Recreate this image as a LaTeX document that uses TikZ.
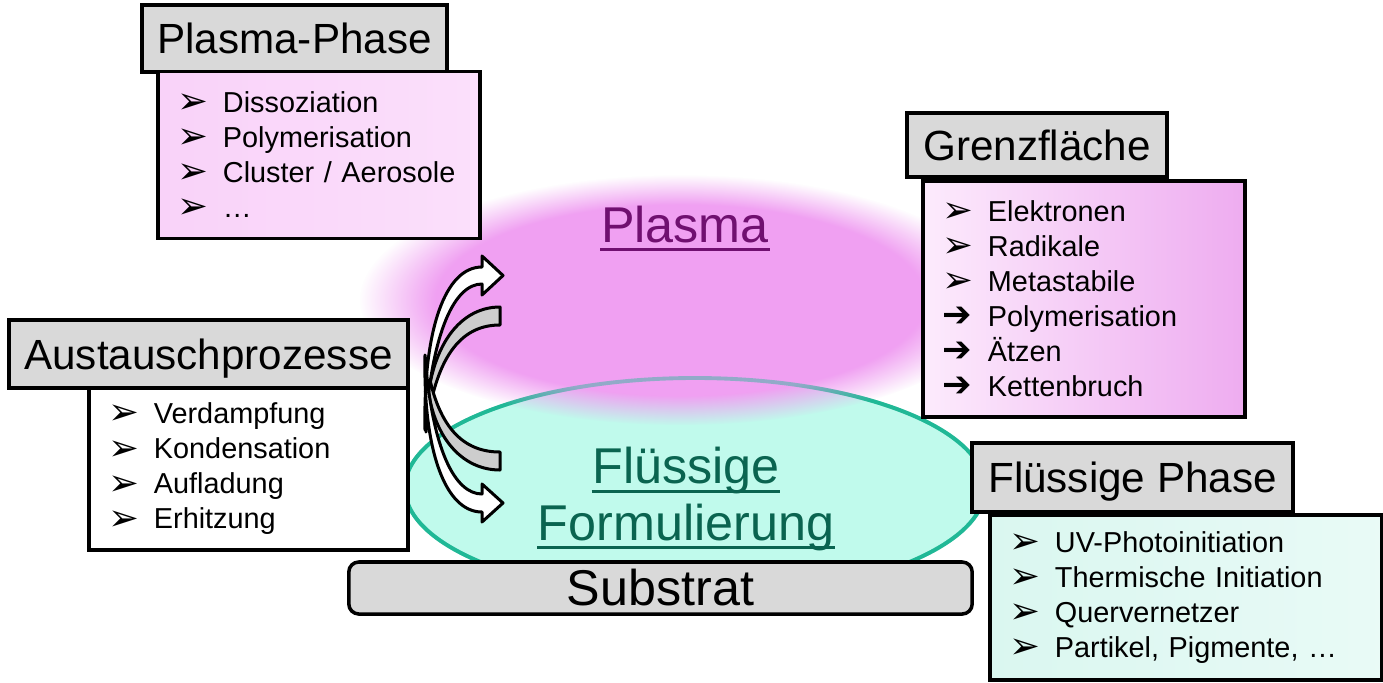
\documentclass[tikz,border=0pt]{standalone}
\usepackage{fontspec}
\setmainfont{Liberation Sans}
\newfontfamily\symfont{DejaVu Sans}
\usetikzlibrary{fadings}

\definecolor{titlegray}{RGB}{217,217,217}
\definecolor{plasmapink}{RGB}{240,160,242}
\definecolor{plasmatext}{RGB}{112,16,112}
\definecolor{fluidcyan}{RGB}{192,250,236}
\definecolor{fluidteal}{RGB}{32,184,150}
\definecolor{fluidtext}{RGB}{10,100,80}
\definecolor{boxpink}{RGB}{249,210,249}
\definecolor{boxpinkdark}{RGB}{238,172,240}
\definecolor{boxcyan}{RGB}{218,247,240}
\definecolor{boxcyanmid}{RGB}{202,232,224}
\definecolor{arrowgray}{RGB}{205,205,205}

% weicher Rand fuer die Plasmawolke
\pgfdeclareradialshading{plasmafadeshade}{\pgfpointorigin}{%
  color(0bp)=(pgftransparent!0); color(19bp)=(pgftransparent!0);
  color(25bp)=(pgftransparent!100); color(50bp)=(pgftransparent!100)}
\pgfdeclarefading{plasmafade}{\pgfuseshading{plasmafadeshade}}

\newcommand{\pfeil}{\makebox[0.45cm][l]{\raisebox{-0.3pt}{\symfont\fontsize{10.5}{8}\selectfont ➢}}}
\newcommand{\dickpfeil}{\makebox[0.45cm][l]{\symfont\fontsize{10}{8}\selectfont ➔}}

\begin{document}
\begin{tikzpicture}[
    x=0.01cm, y=-0.01cm,
    kopf/.style={draw, line width=1pt, fill=titlegray, inner sep=0pt,
        font=\fontsize{12}{14}\selectfont, text height=8.6pt, text depth=0pt},
    liste/.style={draw, line width=1pt, inner xsep=0.2cm, inner ysep=0pt,
        align=left, font=\fontsize{8.2}{9.96}\selectfont},
    gross/.style={inner sep=0pt, font=\fontsize{14.3}{17}\selectfont},
    band/.style={line width=0.03cm, line join=round},
    unterstrich/.style={line width=0.85pt}
]

% --- HINTERGRUND ---
\fill[white] (0,0) rectangle (1383,682);
\useasboundingbox (0,0) rectangle (1383,682);

% --- FLUESSIGE FORMULIERUNG + PLASMA ---
\filldraw[fill=fluidcyan, draw=fluidteal, line width=1.1pt] (695,488) ellipse [x radius=290, y radius=110];
\fill[plasmapink, path fading=plasmafade] (680,300) ellipse [x radius=320, y radius=125];
\draw[fluidteal, line width=1.1pt, opacity=0.45] (695,488) ellipse [x radius=290, y radius=110];

\node[gross, text=plasmatext, anchor=base] (plasma) at (685,242) {Plasma};
\node[gross, text=fluidtext, anchor=base] (fluessig1) at (686,483) {Flüssige};
\node[gross, text=fluidtext, anchor=base] (fluessig2) at (686,540) {Formulierung};

\draw[plasmatext, unterstrich] ([yshift=-2pt]plasma.base west) -- ([yshift=-2pt]plasma.base east);
\draw[fluidtext, unterstrich] ([yshift=-2.4pt]fluessig1.base west) -- ([yshift=-2.4pt]fluessig1.base east);
\draw[fluidtext, unterstrich] ([yshift=-2.2pt]fluessig2.base west) -- ([yshift=-2.2pt]fluessig2.base east);

% --- AUSTAUSCHPFEILE ---
% graue Baender
\filldraw[band, fill=arrowgray] (426,432) .. controls (425,350) and (458,307) .. (500,307)
    -- (500,325) .. controls (465,325) and (436,350) .. (426,432) -- cycle;
\filldraw[band, fill=arrowgray] (426,358) .. controls (425,430) and (458,470) .. (500,470)
    -- (500,452) .. controls (465,452) and (436,430) .. (426,358) -- cycle;
% weisse Pfeile
\filldraw[band, fill=white] (425,430) .. controls (423,330) and (445,267) .. (482,267)
    -- (482,256) -- (503,275.5) -- (482,295) -- (482,284)
    .. controls (455,284) and (432,330) .. (425,430) -- cycle;
\filldraw[band, fill=white] (425,355) .. controls (423,450) and (445,512) .. (482,512)
    -- (482,522) -- (503,503) -- (482,484) -- (482,494)
    .. controls (455,494) and (432,450) .. (425,355) -- cycle;

% --- PLASMA-PHASE ---
\node[kopf, minimum width=3.05cm, minimum height=0.67cm] (pp-kopf) at (294.5,38.5) {Plasma-Phase};
\node[liste, minimum height=1.67cm, text width=2.82cm,
      left color=boxpink, middle color=white, right color=boxpink!70!white] (pp-liste) at (319,155)
    {\pfeil Dissoziation\\ \pfeil Polymerisation\\ \pfeil Cluster / Aerosole\\ \pfeil …};

% --- AUSTAUSCHPROZESSE ---
\node[kopf, minimum width=3.99cm, minimum height=0.68cm] (ap-kopf) at (208.5,354) {Austauschprozesse};
\node[liste, minimum height=1.62cm, text width=2.79cm, fill=white] (ap-liste) at (248.5,469)
    {\pfeil Verdampfung\\ \pfeil Kondensation\\ \pfeil Aufladung\\ \pfeil Erhitzung};

% --- GRENZFLAECHE ---
\node[kopf, minimum width=2.60cm, minimum height=0.64cm] (gf-kopf) at (1037,145) {Grenzfläche};
\node[liste, minimum height=2.36cm, text width=2.82cm,
      left color=boxpink!45!white, middle color=white, right color=boxpinkdark] (gf-liste) at (1084,299)
    {\pfeil Elektronen\\ \pfeil Radikale\\ \pfeil Metastabile\\
     \dickpfeil Polymerisation\\ \dickpfeil Ätzen\\ \dickpfeil Kettenbruch};

% --- FLUESSIGE PHASE ---
\node[kopf, minimum width=3.21cm, minimum height=0.69cm] (fp-kopf) at (1132.5,477.5) {Flüssige Phase};
\node[liste, minimum height=1.65cm, text width=3.52cm,
      left color=boxcyan, middle color=boxcyanmid, right color=boxcyan!60!white] (fp-liste) at (1186,597.5)
    {\pfeil UV-Photoinitiation\\ \pfeil Thermische Initiation\\ \pfeil Quervernetzer\\ \pfeil Partikel, Pigmente, …};

% --- SUBSTRAT ---
\node[draw, line width=1pt, fill=titlegray, rounded corners=0.1cm, inner sep=0pt,
      minimum width=6.23cm, minimum height=0.52cm, font=\fontsize{14.3}{17}\selectfont] (substrat) at (660.5,588) {Substrat};

\end{tikzpicture}
\end{document}
